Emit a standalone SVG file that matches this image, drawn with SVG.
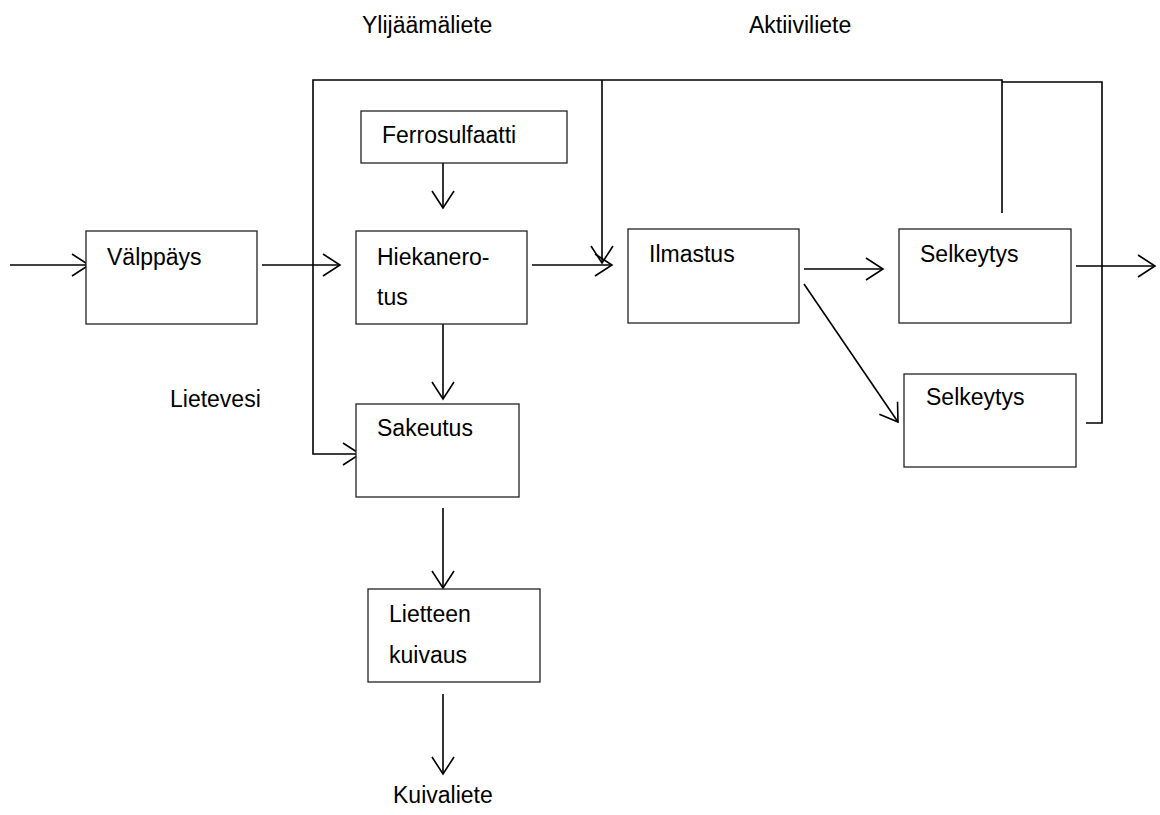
<svg xmlns="http://www.w3.org/2000/svg" width="1160" height="815" viewBox="0 0 1160 815">
<style>
.box{fill:#fff;stroke:#222;stroke-width:1.3}
.lbl{font-family:"Liberation Sans",Arial,sans-serif;font-size:23px;fill:#000}
.ln{fill:none;stroke:#000;stroke-width:1.6}
</style>
<defs>
<marker id="ah" markerUnits="userSpaceOnUse" markerWidth="22" markerHeight="26" refX="19" refY="12" orient="auto" overflow="visible">
<path d="M2,1 L19,12 L2,23" fill="none" stroke="#000" stroke-width="1.6"/>
</marker>
</defs>
<rect width="1160" height="815" fill="#fff"/>
<g id="connectors">
<path class="ln" d="M1002,213 V80 H313 V454 H360" marker-end="url(#ah)"/>
<path class="ln" d="M602,80 V263" marker-end="url(#ah)"/>
<path class="ln" d="M1086,423 H1102 V82 H1002"/>
<path class="ln" d="M10,265 H89" marker-end="url(#ah)"/>
<path class="ln" d="M262,265 H340" marker-end="url(#ah)"/>
<path class="ln" d="M443,153 V208" marker-end="url(#ah)"/>
<path class="ln" d="M532,265 H612" marker-end="url(#ah)"/>
<path class="ln" d="M804,269 H883" marker-end="url(#ah)"/>
<path class="ln" d="M804,284 L898,422" marker-end="url(#ah)"/>
<path class="ln" d="M1076,266 H1155" marker-end="url(#ah)"/>
<path class="ln" d="M443,320 V399" marker-end="url(#ah)"/>
<path class="ln" d="M443,508 V588" marker-end="url(#ah)"/>
<path class="ln" d="M443,694 V774" marker-end="url(#ah)"/>
</g>
<g id="valppays"><rect class="box" x="86" y="231" width="171" height="93"/><text class="lbl" x="107" y="265">Välppäys</text></g>
<g id="ferrosulfaatti"><rect class="box" x="361" y="111" width="206" height="52"/><text class="lbl" x="382" y="143">Ferrosulfaatti</text></g>
<g id="hiekanerotus"><rect class="box" x="356" y="231" width="171" height="93"/><text class="lbl" x="377" y="265">Hiekanero-</text><text class="lbl" x="377" y="305">tus</text></g>
<g id="ilmastus"><rect class="box" x="628" y="229" width="171" height="94"/><text class="lbl" x="649" y="262">Ilmastus</text></g>
<g id="selkeytys1"><rect class="box" x="899" y="229" width="172" height="94"/><text class="lbl" x="920" y="262">Selkeytys</text></g>
<g id="selkeytys2"><rect class="box" x="904" y="374" width="172" height="93"/><text class="lbl" x="926" y="405">Selkeytys</text></g>
<g id="sakeutus"><rect class="box" x="356" y="404" width="163" height="93"/><text class="lbl" x="377" y="436">Sakeutus</text></g>
<g id="lietteen-kuivaus"><rect class="box" x="368" y="589" width="172" height="93"/><text class="lbl" x="389" y="622">Lietteen</text><text class="lbl" x="389" y="663">kuivaus</text></g>
<g id="labels">
<text class="lbl" x="362" y="33">Ylijäämäliete</text>
<text class="lbl" x="749" y="33">Aktiiviliete</text>
<text class="lbl" x="170" y="407">Lietevesi</text>
<text class="lbl" x="393" y="803">Kuivaliete</text>
</g>
</svg>
